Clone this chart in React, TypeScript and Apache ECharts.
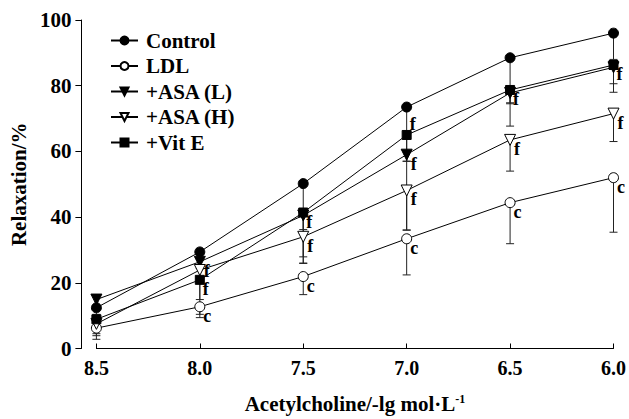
import React, { useEffect, useRef } from "react";
import * as echarts from "echarts";

const xValues = [8.5, 8.0, 7.5, 7.0, 6.5, 6.0];
const yTicks = [0, 20, 40, 60, 80, 100];

const controlVals = [12.4, 29.4, 50.2, 73.5, 88.5, 96.0];
const controlErr = [2, 2, 14, 16.5, 14, 8];
const controlSig = ["", "", "", "", "", ""];

const ldlVals = [6.2, 12.7, 21.9, 33.4, 44.4, 52.0];
const ldlErr = [3.4, 3.3, 5.5, 11, 12.5, 16.6];
const ldlSig = ["", "c", "c", "c", "c", "c"];

const asaLVals = [14.9, 26.4, 40.5, 59.0, 77.8, 85.6];
const asaLErr = [3, 2, 14.6, 23, 3, 5];
const asaLSig = ["", "f", "", "f", "", ""];

const asaHVals = [7.5, 23.9, 34.0, 48.1, 63.5, 71.5];
const asaHErr = [3, 9, 8, 12, 9.5, 8.5];
const asaHSig = ["", "", "f", "f", "f", "f"];

const vitEVals = [8.9, 20.9, 41.4, 65.0, 78.7, 86.3];
const vitEErr = [5, 10.5, 13.5, 8, 11, 8.3];
const vitESig = ["", "f", "f", "f", "f", "f"];

const FONT = "'Liberation Serif', 'Times New Roman', serif";

type Def = {
  name: string;
  vals: number[];
  err: number[];
  sig: string[];
  symbol: string;
  rotate: number;
  size: number;
  hollow: boolean;
};

const defs: Def[] = [
  { name: "Control", vals: controlVals, err: controlErr, sig: controlSig, symbol: "circle", rotate: 0, size: 10, hollow: false },
  { name: "LDL", vals: ldlVals, err: ldlErr, sig: ldlSig, symbol: "circle", rotate: 0, size: 10, hollow: true },
  { name: "+ASA (L)", vals: asaLVals, err: asaLErr, sig: asaLSig, symbol: "triangle", rotate: 180, size: 11, hollow: false },
  { name: "+ASA (H)", vals: asaHVals, err: asaHErr, sig: asaHSig, symbol: "triangle", rotate: 180, size: 11, hollow: true },
  { name: "+Vit E", vals: vitEVals, err: vitEErr, sig: vitESig, symbol: "rect", rotate: 0, size: 9, hollow: false },
];

export default function App() {
  const ref = useRef<HTMLDivElement>(null);
  useEffect(() => {
    document.body.style.margin = "0";
    if (!ref.current) return;
    const chart = echarts.init(ref.current, undefined, { renderer: "svg" });

    const errSeries = defs.map((d) => ({
      type: "custom",
      name: d.name + " err",
      z: 1,
      silent: true,
      clip: false,
      encode: { x: 0, y: 1 },
      data: xValues.map((x, i) => [x, d.vals[i], d.err[i]]),
      renderItem: (params: any, api: any) => {
        const x = api.value(0);
        const y = api.value(1);
        const e = api.value(2);
        const top = api.coord([x, y]);
        const bot = api.coord([x, y - e]);
        const st = { stroke: "#222", lineWidth: 1 };
        return {
          type: "group",
          children: [
            { type: "line", shape: { x1: top[0], y1: top[1], x2: bot[0], y2: bot[1] }, style: st },
            { type: "line", shape: { x1: bot[0] - 4, y1: bot[1], x2: bot[0] + 4, y2: bot[1] }, style: st },
          ],
        };
      },
    }));

    const lineSeries = defs.map((d) => ({
      type: "line",
      name: d.name,
      z: 3,
      symbol: d.symbol,
      symbolSize: d.size,
      symbolRotate: d.rotate,
      showAllSymbol: true,
      lineStyle: { color: "#000", width: 1 },
      itemStyle: {
        color: d.hollow ? "#fff" : "#000",
        borderColor: "#000",
        borderWidth: 1,
      },
      emphasis: { disabled: true },
      data: xValues.map((x, i) => {
        const item: any = { value: [x, d.vals[i]] };
        if (d.sig[i]) {
          const above = d.name === "+Vit E" && x === 7.0;
          item.label = {
            show: true,
            formatter: d.sig[i],
            position: "right",
            distance: 0,
            offset: above ? [-2, -11] : [-2, 9],
            color: "#000",
            fontFamily: FONT,
            fontWeight: "bold",
            fontSize: 18,
          };
        }
        return item;
      }),
    }));

    chart.setOption({
      animation: false,
      backgroundColor: "#fff",
      grid: { left: 93, right: 9, top: 20, bottom: 66 },
      legend: {
        data: defs.map((d) => d.name),
        orient: "vertical",
        left: 105,
        top: 25,
        itemWidth: 27,
        itemHeight: 10,
        itemGap: 4.5,
        selectedMode: false,
        textStyle: {
          color: "#000",
          fontFamily: FONT,
          fontWeight: "bold",
          fontSize: 21,
          lineHeight: 20,
          padding: [0, 0, 0, 3],
        },
      },
      xAxis: {
        type: "value",
        min: 6,
        max: 8.5,
        interval: 0.5,
        inverse: true,
        offset: 2,
        splitLine: { show: false },
        axisLine: { lineStyle: { color: "#000", width: 1 } },
        axisTick: { inside: true, length: 5, lineStyle: { color: "#000" } },
        axisLabel: {
          color: "#000",
          fontFamily: FONT,
          fontWeight: "bold",
          fontSize: 20,
          margin: 7,
          formatter: (v: number) => v.toFixed(1),
        },
        name: "Acetylcholine/-lg mol·L{sup|-1}",
        nameLocation: "middle",
        nameGap: 42,
        nameTextStyle: {
          color: "#000",
          fontFamily: FONT,
          fontWeight: "bold",
          fontSize: 21,
          rich: {
            sup: {
              fontFamily: FONT,
              fontWeight: "bold",
              fontSize: 12,
              verticalAlign: "top",
              padding: [0, 0, 10, 0],
              color: "#000",
            },
          },
        },
      },
      yAxis: {
        type: "value",
        min: yTicks[0],
        max: yTicks[yTicks.length - 1],
        interval: 20,
        offset: 15,
        splitLine: { show: false },
        axisLine: { show: true, lineStyle: { color: "#000", width: 1 } },
        axisTick: { show: true, length: 6, lineStyle: { color: "#000" } },
        axisLabel: {
          color: "#000",
          fontFamily: FONT,
          fontWeight: "bold",
          fontSize: 21,
          margin: 10,
        },
        name: "Relaxation/%",
        nameLocation: "middle",
        nameGap: 52,
        nameTextStyle: {
          color: "#000",
          fontFamily: FONT,
          fontWeight: "bold",
          fontSize: 21,
        },
      },
      series: [...errSeries, ...lineSeries],
    });
    return () => chart.dispose();
  }, []);
  return <div ref={ref} style={{ width: 629, height: 419 }} />;
}
